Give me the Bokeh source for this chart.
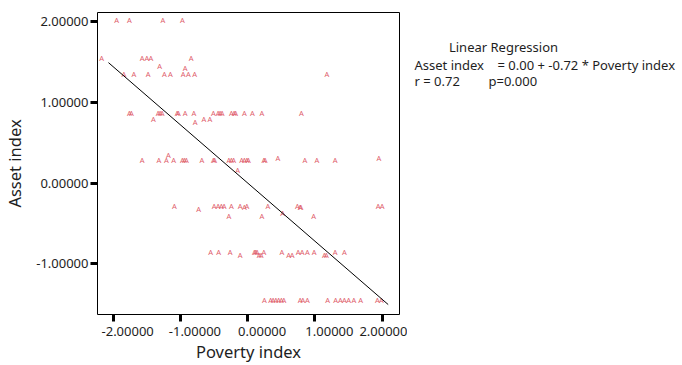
from bokeh.plotting import figure
from bokeh.layouts import row
from bokeh.models import Range1d, FixedTicker, Label, LinearAxis
from bokeh.core.properties import value
from bokeh.embed import file_html
from bokeh.resources import INLINE

# ---- data ----
poverty_index = [
    -1.95, -1.76, -1.26, -0.97,
    -2.17, -1.57, -1.50, -1.44, -0.84,
    -1.31, -0.93,
    -1.84, -1.69, -1.48, -1.24, -1.15, -0.96, -0.88, -0.79, 1.18,
    -1.76, -1.73, -1.33, -1.30, -1.27, -1.05, -1.03, -0.93, -0.80, -0.51,
    -0.44, -0.41, -0.38, -0.24, -0.20, -0.18, -0.05, 0.07, 0.21, 0.80,
    -1.40, -0.65, -0.56, -0.78,
    -1.57, -1.32, -1.21, -1.10, -0.97, -0.94, -0.91, -0.68, -0.51, -0.49, -0.28,
    -0.24, -0.21, -0.09, -0.05, -0.01, 0.01, 0.24, 0.26, 0.85, 1.03, 1.30,
    0.45, 1.95, -1.18, -0.15,
    -1.09, -0.50, -0.44, -0.39, -0.35, -0.24, -0.11, -0.01, 0.30, 0.74, 1.94, 2.00,
    -0.05, 0.78, 0.79, -0.73, 0.52, -0.28, 0.21, 0.98,
    -0.55, -0.43, -0.26, 0.10, 0.12, 0.14, 0.24, 0.51, 0.75, 0.81, 0.89, 0.99, 1.30, 1.44,
    -0.11, 0.17, 0.20, 0.61, 0.66, 1.14, 1.17,
    0.25, 0.34, 0.38, 0.42, 0.46, 0.50, 0.54, 0.78, 0.82, 0.89,
    1.19, 1.31, 1.38, 1.44, 1.50, 1.58, 1.68, 1.93, 1.99,
]
asset_index = (
    [2.02] * 4 + [1.55] * 5 + [1.45, 1.42] + [1.35] * 9 + [0.87] * 20
    + [0.79, 0.79, 0.79, 0.76] + [0.29] * 22 + [0.31, 0.31, 0.35, 0.16]
    + [-0.28] * 12 + [-0.30, -0.30, -0.30, -0.32, -0.37, -0.41, -0.41, -0.41]
    + [-0.86] * 14 + [-0.89] * 7 + [-1.45] * 19
)

reg_intercept = 0.00
reg_slope = -0.72
reg_x = [-2.07, 2.09]
reg_y = [reg_intercept + reg_slope * x for x in reg_x]

x_ticks = [-2, -1, 0, 1, 2]
x_tick_labels = ["-2.00000", "-1.00000", "0.00000", "1.00000", "2.00000"]
y_ticks = [-1, 0, 1, 2]
y_tick_labels = ["-1.00000", "0.00000", "1.00000", "2.00000"]

reg_title = "Linear Regression"
reg_eq_lhs = "Asset index"
reg_eq_rhs = "= 0.00 + -0.72 * Poverty index"
reg_r = "r = 0.72"
reg_p = "p=0.000"

FONT = "Noto Sans"
TEXT_COL = "#1e1e1e"
X0, X1 = -2.233, 2.258
Y0, Y1 = -1.628, 2.111
FRAME_W, FRAME_H = 302, 302
LABEL_SHIFT_PX = 14.5   # x tick labels sit to the right of their ticks in the original

p = figure(frame_width=FRAME_W, frame_height=FRAME_H, output_backend="svg",
           toolbar_location=None,
           x_range=Range1d(X0, X1), y_range=Range1d(Y0, Y1),
           min_border_left=97, min_border_right=8, min_border_top=12,
           min_border_bottom=50)
p.background_fill_color = "white"
p.border_fill_color = "white"
p.outline_line_color = "black"
p.outline_line_width = 1
p.xgrid.visible = False
p.ygrid.visible = False


def style_axis(ax):
    ax.axis_line_color = None
    ax.major_tick_line_width = 3
    ax.major_tick_line_color = "black"
    ax.major_tick_in = 0
    ax.major_tick_out = 7
    ax.minor_tick_line_color = None
    ax.major_label_text_font = FONT
    ax.major_label_text_font_size = "13px"
    ax.major_label_text_color = TEXT_COL
    ax.axis_label_text_font = FONT
    ax.axis_label_text_font_size = "16.5px"
    ax.axis_label_text_font_style = "normal"
    ax.axis_label_text_color = TEXT_COL
    ax.major_label_standoff = 2


# y axis
yax = p.yaxis[0]
style_axis(yax)
yax.ticker = FixedTicker(ticks=y_ticks)
yax.major_label_overrides = {t: l for t, l in zip(y_ticks, y_tick_labels)}
yax.axis_label = "Asset index"
yax.axis_label_standoff = 7

# x axis: tick marks only
xax = p.xaxis[0]
style_axis(xax)
xax.ticker = FixedTicker(ticks=x_ticks)
xax.major_label_overrides = {t: "" for t in x_ticks}
xax.major_label_text_font_size = "0px"
xax.major_label_standoff = 0

# x axis: tick labels (offset to the right as in the original) and title
shift = LABEL_SHIFT_PX * (X1 - X0) / FRAME_W
label_pos = [round(t + shift, 4) for t in x_ticks]
xlab = LinearAxis()
style_axis(xlab)
xlab.ticker = FixedTicker(ticks=label_pos)
xlab.major_label_overrides = {t: l for t, l in zip(label_pos, x_tick_labels)}
xlab.major_tick_line_color = None
xlab.major_tick_out = 0
xlab.major_label_standoff = 5
xlab.axis_label = "Poverty index"
xlab.axis_label_standoff = 1
p.add_layout(xlab, "below")

p.text(x=poverty_index, y=asset_index, text=value("A"), text_font=value(FONT),
       text_font_size="7.5px", text_align="center", text_baseline="middle",
       text_color="#e0606c")
p.line(reg_x, reg_y, line_color="black", line_width=1)

# side panel for the regression text (pixel coordinates, origin top-left)
W2, H2 = 275, 364
p2 = figure(width=W2, height=H2, output_backend="svg", toolbar_location=None,
            x_range=Range1d(0, W2), y_range=Range1d(H2, 0),
            min_border=0, min_border_left=0, min_border_right=0,
            min_border_top=0, min_border_bottom=0)
p2.axis.visible = False
p2.grid.visible = False
p2.outline_line_color = None
p2.background_fill_color = "white"
p2.border_fill_color = "white"


def add_text(x, y, txt, align="left"):
    p2.add_layout(Label(x=x, y=y, text=txt, text_align=align,
                        text_baseline="alphabetic", text_font=FONT,
                        text_font_size="13px", text_color=TEXT_COL))


add_text(96, 42, reg_title, align="center")
add_text(7, 64, reg_eq_lhs)
add_text(90, 64, reg_eq_rhs)
add_text(7, 83, reg_r)
add_text(81, 83, reg_p)

layout = row(p, p2, spacing=0)
open("out.html", "w").write(file_html(layout, INLINE))
